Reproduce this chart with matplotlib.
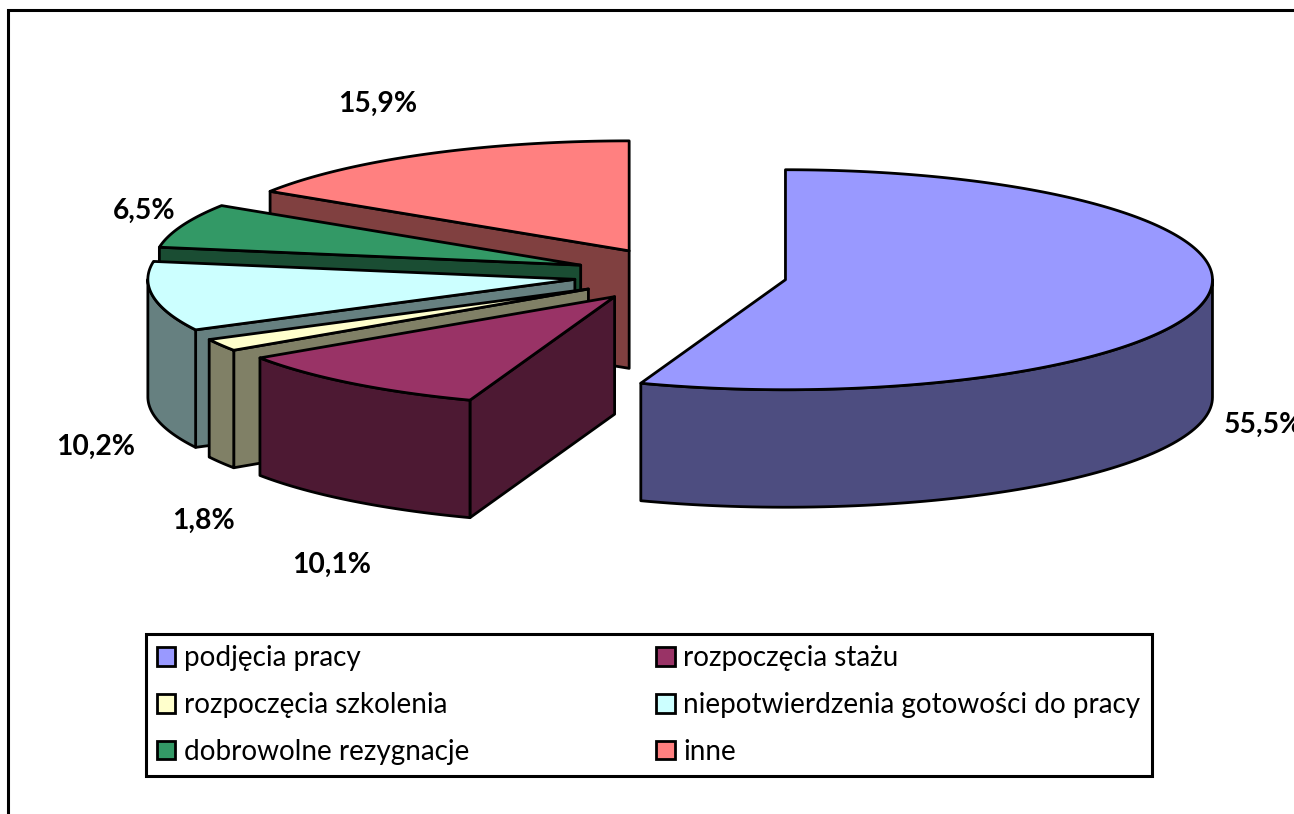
import matplotlib
matplotlib.use("Agg")
import matplotlib.pyplot as plt
from matplotlib.patches import Patch, Polygon, Rectangle
import numpy as np

labels = ["podjęcia pracy", "rozpoczęcia stażu", "rozpoczęcia szkolenia",
          "niepotwierdzenia gotowości do pracy", "dobrowolne rezygnacje", "inne"]
values = [55.5, 10.1, 1.8, 10.2, 6.5, 15.9]
value_labels = ["55,5%", "10,1%", "1,8%", "10,2%", "6,5%", "15,9%"]
top_colors = ["#9999FF", "#993366", "#FFFFCC", "#CCFFFF", "#339966", "#FF8080"]
side_colors = ["#4D4D80", "#4D1933", "#808066", "#668080", "#1A4D33", "#804040"]

# pie geometry in pixels
cx, cy = 680.3, 275
rx, ry = 427, 110
depth = 117.5
explode = 0.25
lw = 2.0

plt.rcParams["font.family"] = ["Lato", "DejaVu Sans"]

fig = plt.figure(figsize=(12.94, 8.14), dpi=100)
ax = fig.add_axes([0, 0, 1, 1])
ax.set_xlim(0, 1294)
ax.set_ylim(814, 0)
ax.axis("off")

# chart border, runs off the right and bottom of the picture
ax.add_patch(Rectangle((8, 10), 1400, 900, fc="white", ec="black", lw=2.2, zorder=0))


def rim(t, ox, oy):
    return np.column_stack([ox + rx * np.sin(t), oy - ry * np.cos(t)])


def face(pts, color, z):
    ax.add_patch(Polygon(pts, closed=True, fc=color, ec="black", lw=lw, joinstyle="round", zorder=z))


edges = np.cumsum([0] + values) / sum(values) * 2 * np.pi
# back slices first, the big slice last
draw_order = [5, 4, 3, 2, 1, 0]
z = 1
for i in draw_order:
    t0, t1 = edges[i], edges[i + 1]
    mid = (t0 + t1) / 2
    ox = cx + explode * rx * np.sin(mid)
    oy = cy - explode * ry * np.cos(mid)
    apex = np.array([ox, oy])
    down = np.array([0, depth])

    # radial cut faces
    for t, show in ((t0, np.sin(t0) < -1e-6), (t1, np.sin(t1) > 1e-6)):
        if show:
            p = rim(np.array([t]), ox, oy)[0]
            face([apex, p, p + down, apex + down], side_colors[i], z)
            z += 1

    # outer wall, only the part that faces the viewer
    a, b = max(t0, np.pi / 2), min(t1, 3 * np.pi / 2)
    if b > a:
        arc = rim(np.linspace(a, b, 80), ox, oy)
        face(np.vstack([arc, (arc + down)[::-1]]), side_colors[i], z)
        z += 1

    # top
    arc = rim(np.linspace(t0, t1, 200), ox, oy)
    face(np.vstack([apex, arc]), top_colors[i], z)
    z += 1

label_xy = [(1224, 425), (292, 565), (172, 521), (56, 447), (113, 211), (338, 104)]
for txt, (x, y) in zip(value_labels, label_xy):
    ax.text(x, y, txt, fontsize=20.3, fontweight="bold", ha="left", va="center", color="black", zorder=50)

# matplotlib fills legend columns first, the reference reads row by row
legend_order = [0, 2, 4, 1, 3, 5]
handles = [Patch(fc=top_colors[i], ec="black", lw=2.0) for i in legend_order]
leg = ax.legend(handles, [labels[i] for i in legend_order], ncol=2, loc="upper left",
                bbox_to_anchor=(145.5 / 1294, 1 - 634 / 814), bbox_transform=fig.transFigure,
                fontsize=20.1, frameon=True, fancybox=False, edgecolor="black", framealpha=1,
                borderaxespad=0, borderpad=0.41, handlelength=0.66, handleheight=0.66,
                handletextpad=0.3, columnspacing=6.7, labelspacing=0.74)
leg.get_frame().set_linewidth(2.2)
leg.set_zorder(60)

fig.savefig("out.png", dpi=100)
